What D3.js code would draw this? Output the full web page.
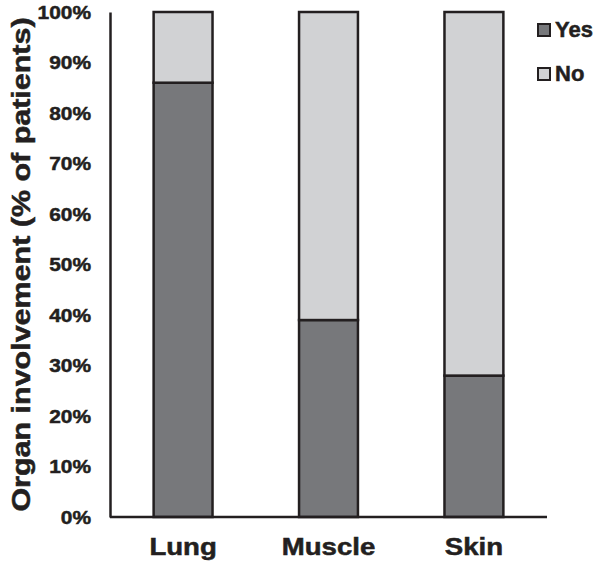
<!DOCTYPE html>
<html>
<head>
<meta charset="utf-8">
<script src="https://cdn.jsdelivr.net/npm/d3@7"></script>
<style>
  body { margin: 0; background: #fff; }
  text { font-family: "Liberation Sans", Arial, sans-serif; font-weight: bold; fill: #231f20; stroke: #231f20; stroke-width: 0.5px; }
</style>
</head>
<body>
<div id="chart"></div>
<script>
// organ involvement, % of patients
const organs = ["Lung", "Muscle", "Skin"];
const yesPct = [86, 39, 28];
const noPct = [14, 61, 72];
const seriesNames = ["Yes", "No"];
const yTicks = [0, 10, 20, 30, 40, 50, 60, 70, 80, 90, 100];

const width = 602, height = 562;
const margin = {top: 12, right: 55, bottom: 45, left: 110};
const colors = {Yes: "#77787b", No: "#d1d2d4"};
const ink = "#231f20";
const stretch = 1.15; // reference lettering is a bit wide

const svg = d3.select("#chart")
  .append("svg")
    .attr("width", width)
    .attr("height", height);

const x = d3.scaleBand()
  .domain(organs)
  .range([margin.left, width - margin.right])
  .paddingInner(0.595)
  .paddingOuter(0.3);

const y = d3.scaleLinear()
  .domain([0, 100])
  .range([height - margin.bottom, margin.top]);

const rows = organs.map((o, i) => ({organ: o, Yes: yesPct[i], No: noPct[i]}));
const stacked = d3.stack().keys(seriesNames)(rows);

svg.append("g")
  .selectAll("g")
  .data(stacked)
  .enter()
  .append("g")
    .attr("fill", d => colors[d.key])
  .selectAll("rect")
  .data(d => d)
  .enter()
  .append("rect")
    .attr("x", d => x(d.data.organ))
    .attr("width", x.bandwidth())
    .attr("y", d => y(d[1]))
    .attr("height", d => y(d[0]) - y(d[1]))
    .attr("stroke", ink)
    .attr("stroke-width", 2.5);

// y axis
const yAxis = svg.append("g")
  .attr("transform", "translate(" + margin.left + ",0)")
  .call(d3.axisLeft(y).tickValues(yTicks).tickSize(0).tickFormat(d => d + "%"));
yAxis.select(".domain").attr("stroke", ink).attr("stroke-width", 2.5);
yAxis.selectAll("text")
  .attr("x", -19 / 1.1)
  .attr("transform", "scale(1.1,1)")
  .style("font-size", "19px")
  .attr("fill", ink);

// x axis
const xAxis = svg.append("g")
  .attr("transform", "translate(0," + y(0) + ")")
  .call(d3.axisBottom(x).tickSize(0).tickPadding(22));
xAxis.select(".domain")
  .attr("d", "M" + margin.left + ",0H" + (width - margin.right))
  .attr("stroke", ink)
  .attr("stroke-width", 2.5);
xAxis.selectAll("text")
  .attr("transform", "scale(1.2,1)")
  .style("font-size", "23px")
  .attr("fill", ink);

// axis title
svg.append("text")
  .attr("transform", "translate(30," + ((y(0) + y(100)) / 2) + ")rotate(-90)scale(" + stretch * 1.06 + ",1)")
  .attr("text-anchor", "middle")
  .style("font-size", "25px")
  .text("Organ involvement (% of patients)");

// legend
const legend = svg.append("g")
  .selectAll("g")
  .data(seriesNames)
  .enter()
  .append("g")
    .attr("transform", (d, i) => "translate(538," + (24 + i * 44) + ")");
legend.append("rect")
  .attr("width", 12)
  .attr("height", 12)
  .attr("fill", d => colors[d])
  .attr("stroke", ink)
  .attr("stroke-width", 2);
legend.append("text")
  .attr("x", 17)
  .attr("y", 12.5)
  .style("font-size", "22px")
  .text(d => d);
</script>
</body>
</html>
